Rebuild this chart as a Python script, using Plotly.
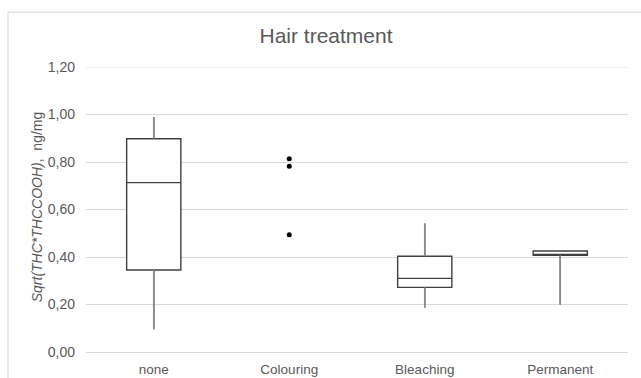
import plotly.graph_objects as go

# Category order on the x axis
categories = ["none", "Colouring", "Bleaching", "Permanent"]

# Box summary statistics for the treatments drawn as boxes
box_groups = ["none", "Bleaching", "Permanent"]
box_lower = [0.096, 0.187, 0.200]
box_q1 = [0.345, 0.272, 0.407]
box_median = [0.713, 0.310, 0.410]
box_q3 = [0.898, 0.403, 0.425]
box_upper = [0.989, 0.541, 0.425]

# Colouring: only individual values are shown
colouring_values = [0.814, 0.782, 0.494]

TEXT = "#595959"
GRID = "#d9d9d9"
WHISKER = "#8a8a8a"
FONT = "Liberation Sans, Arial, sans-serif"

fig = go.Figure()

fig.add_trace(go.Box(
    x=box_groups,
    q1=box_q1,
    median=box_median,
    q3=box_q3,
    lowerfence=box_lower,
    upperfence=box_upper,
    width=0.4,
    whiskerwidth=0,
    fillcolor="white",
    line=dict(color="#404040", width=1.4),
    boxpoints=False,
    showlegend=False,
    hoverinfo="skip",
))

# Lighter whisker stems drawn over the box trace's whiskers
wx, wy = [], []
for g, lo, q1, q3, hi in zip(box_groups, box_lower, box_q1, box_q3, box_upper):
    if hi > q3:
        wx += [g, g, None]
        wy += [q3, hi, None]
    if lo < q1:
        wx += [g, g, None]
        wy += [lo, q1, None]
fig.add_trace(go.Scatter(
    x=wx, y=wy, mode="lines",
    line=dict(color=WHISKER, width=1.6),
    showlegend=False, hoverinfo="skip",
))

fig.add_trace(go.Scatter(
    x=["Colouring"] * len(colouring_values),
    y=colouring_values,
    mode="markers",
    marker=dict(color="black", size=5),
    showlegend=False,
    hoverinfo="skip",
))

W, H = 641, 378
ml, mr, mt, mb = 86, 13, 66.7, 26.3
pw, ph = W - ml - mr, H - mt - mb


def px_to_paper_x(px):
    return (px - ml) / pw


def px_to_paper_y(py):
    return (H - mb - py) / ph


fig.update_layout(
    width=W,
    height=H,
    margin=dict(l=ml, r=mr, t=mt, b=mb, pad=0, autoexpand=False),
    paper_bgcolor="white",
    plot_bgcolor="white",
    separators=", ",
    font=dict(family=FONT, color=TEXT, size=13.5),
    title=dict(
        text="Hair treatment",
        x=326 / W,
        xanchor="center",
        xref="container",
        y=1 - 36 / H,
        yanchor="middle",
        yref="container",
        font=dict(size=21, color=TEXT, family=FONT),
    ),
    xaxis=dict(
        type="category",
        categoryorder="array",
        categoryarray=categories,
        range=[-0.5, 3.5],
        automargin=False,
        showgrid=False,
        zeroline=False,
        showline=False,
        ticks="",
        ticklabelstandoff=7,
        tickfont=dict(size=13.5, color=TEXT),
    ),
    yaxis=dict(
        range=[0, 1.2],
        dtick=0.2,
        tickformat=".2f",
        automargin=False,
        showgrid=True,
        gridcolor=GRID,
        gridwidth=1,
        zeroline=True,
        zerolinecolor=GRID,
        zerolinewidth=1,
        showline=False,
        ticks="",
        ticklabelstandoff=10,
        tickfont=dict(size=14, color=TEXT),
    ),
    annotations=[
        dict(
            text="<i>Sqrt(THC*THCCOOH)</i>,\u00a0\u00a0ng/mg",
            xref="paper",
            yref="paper",
            x=px_to_paper_x(37),
            y=px_to_paper_y(207),
            xanchor="center",
            yanchor="middle",
            textangle=-90,
            showarrow=False,
            font=dict(size=14, color=TEXT, family=FONT),
        )
    ],
    shapes=[
        # top-left chart frame
        dict(type="line", xref="paper", yref="paper",
             x0=px_to_paper_x(8), x1=px_to_paper_x(700),
             y0=px_to_paper_y(12), y1=px_to_paper_y(12),
             line=dict(color="#e3e3e3", width=1.5)),
        dict(type="line", xref="paper", yref="paper",
             x0=px_to_paper_x(8), x1=px_to_paper_x(8),
             y0=px_to_paper_y(12), y1=px_to_paper_y(420),
             line=dict(color="#e3e3e3", width=1.5)),
        # gridline at the top of the value range
        dict(type="line", xref="paper", yref="y",
             x0=0, x1=1, y0=1.2, y1=1.2,
             line=dict(color=GRID, width=1), layer="below"),
    ],
)

fig.write_html("out.html")
